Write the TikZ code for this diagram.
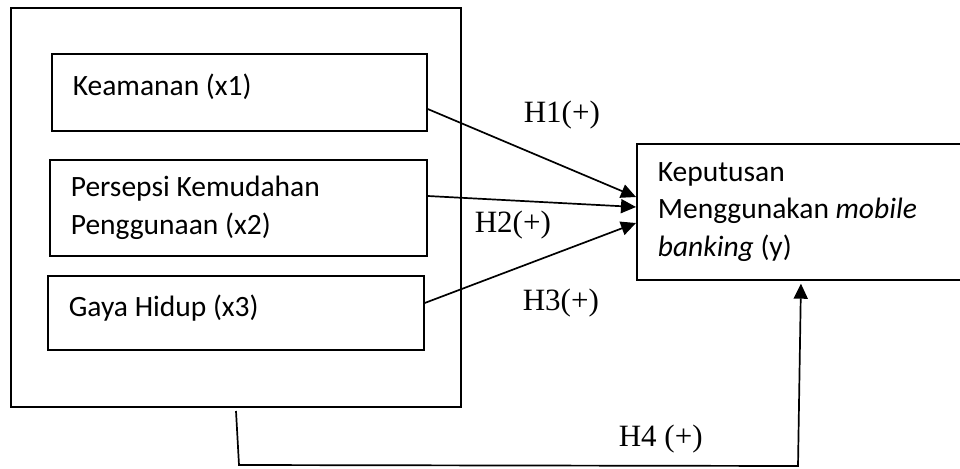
\documentclass[tikz,border=0pt]{standalone}
\usepackage{fontspec}
\setmainfont{Liberation Serif}
\newfontfamily\boxfont{Carlito}
\usetikzlibrary{arrows.meta}
\begin{document}
\begin{tikzpicture}[x=1pt,y=-1pt,line width=1.7pt,
  vbox/.style={draw,rectangle,anchor=north west,inner xsep=21pt,inner ysep=0pt,
     align=flush left,font=\boxfont\fontsize{29.5}{37.5}\selectfont},
  hlab/.style={anchor=base west,inner sep=0pt,font=\fontsize{31}{36}\selectfont},
  arr/.style={-{Triangle[length=15pt,width=14pt]}}]
\useasboundingbox (0,0) rectangle (960,468);
\node[vbox,minimum width=450pt,minimum height=399pt] (outer) at (10,7) {};
\node[vbox,minimum width=375pt,minimum height=77pt,text width=333pt,text depth=15pt] (k1) at (51,53) {Keamanan (x1)};
\node[vbox,minimum width=377pt,minimum height=96pt,text width=335pt] (k2) at (49,159) {Persepsi Kemudahan\\Penggunaan (x2)};
\node[vbox,minimum width=376pt,minimum height=74pt,text width=334pt,text depth=15pt] (k3) at (47,275) {Gaya Hidup (x3)};
\node[vbox,minimum width=330pt,minimum height=136pt,text width=288pt] (y) at (636,143) {Keputusan\\Menggunakan \textit{mobile}\\\textit{banking} (y)};
\draw[arr] (k1.east |- 0,109) -- (y.west |- 0,197);
\draw[arr] (k2.east |- 0,196) -- (y.west |- 0,207);
\draw[arr] (k3.east |- 0,303) -- (y.west |- 0,223);
\coordinate (h4s) at (236,411);
\coordinate (h4a) at (239,465);
\coordinate (h4b) at (798,466);
\draw[arr,shorten >=3pt] (h4s) -- (h4a) -- (h4b) -- (y.south -| 801,0);
\node[hlab] (l1) at (523,123) {H1(+)};
\node[hlab] (l2) at (474,232) {H2(+)};
\node[hlab] (l3) at (522,310) {H3(+)};
\node[hlab] (l4) at (618,446) {H4 (+)};
\end{tikzpicture}
\end{document}
